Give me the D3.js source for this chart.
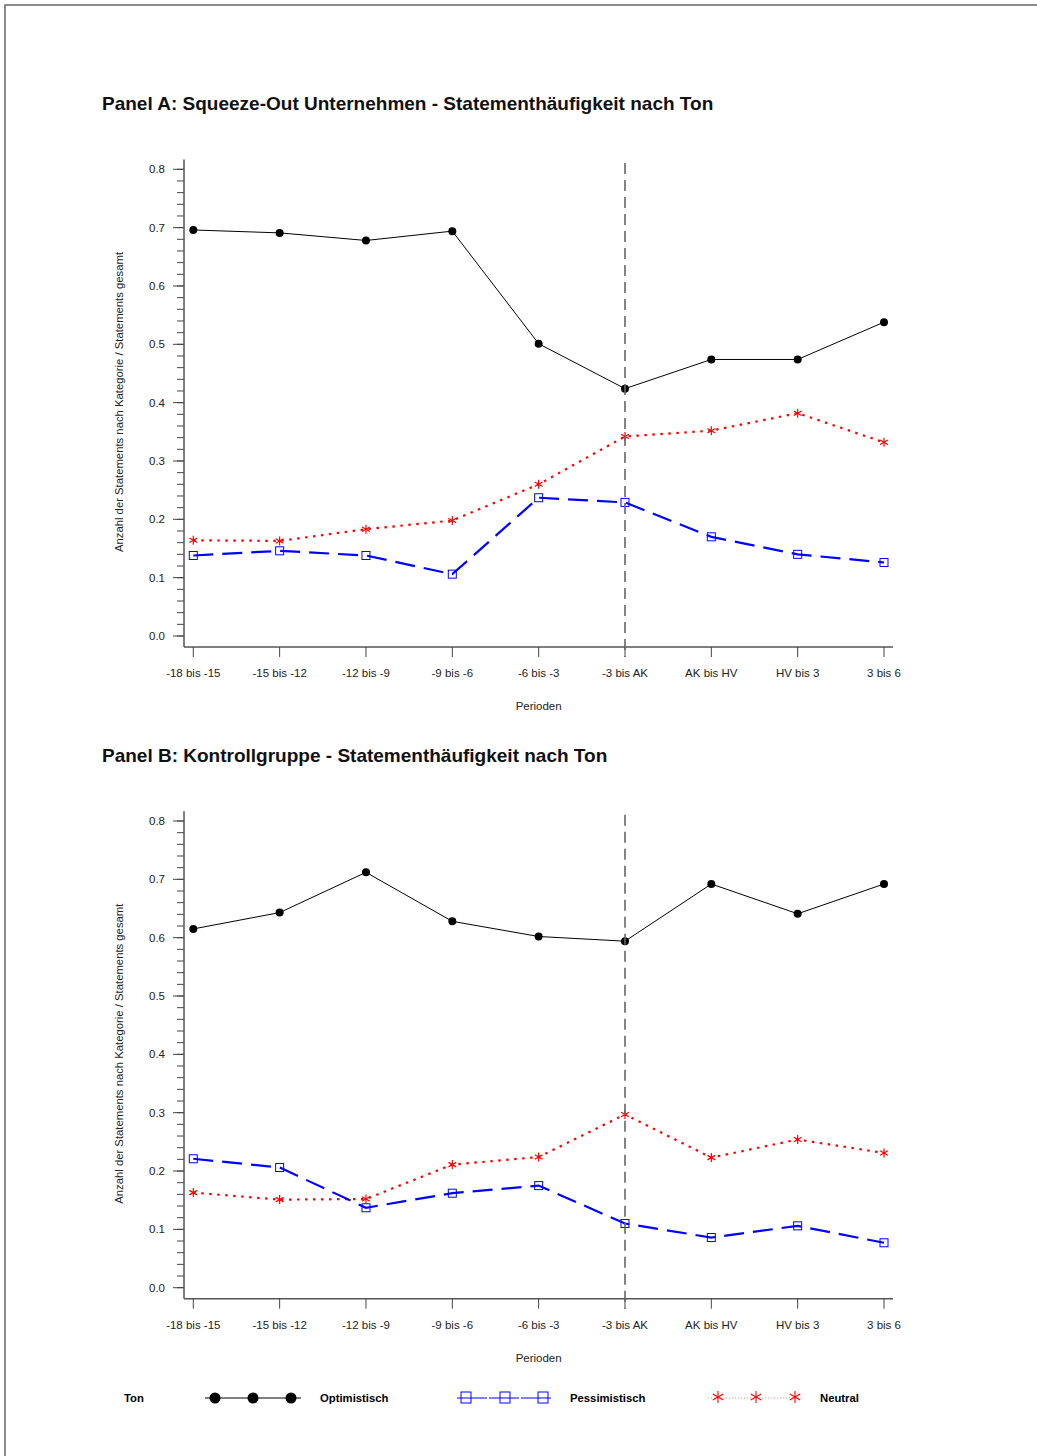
<!DOCTYPE html>
<html>
<head>
<meta charset="utf-8">
<script src="https://cdn.jsdelivr.net/npm/d3@7"></script>
<style>
  body { margin: 0; background: #fff; }
  svg { display: block; font-family: "Liberation Sans", Arial, sans-serif; }
</style>
</head>
<body>
<svg id="chart" width="1037" height="1456"></svg>
<script>
var width = 1037;
var height = 1456;

// periods on the x axis
var perioden = ["-18 bis -15", "-15 bis -12", "-12 bis -9", "-9 bis -6", "-6 bis -3",
                "-3 bis AK", "AK bis HV", "HV bis 3", "3 bis 6"];
var yTicks = [0.0, 0.1, 0.2, 0.3, 0.4, 0.5, 0.6, 0.7, 0.8];

// Panel A: Squeeze-Out Unternehmen
var optimistischA  = [0.696, 0.691, 0.678, 0.694, 0.501, 0.424, 0.474, 0.474, 0.538];
var pessimistischA = [0.138, 0.146, 0.138, 0.106, 0.237, 0.229, 0.170, 0.140, 0.126];
var neutralA       = [0.164, 0.163, 0.183, 0.198, 0.260, 0.342, 0.352, 0.382, 0.332];

// Panel B: Kontrollgruppe
var optimistischB  = [0.615, 0.643, 0.712, 0.628, 0.602, 0.594, 0.692, 0.641, 0.692];
var pessimistischB = [0.221, 0.206, 0.137, 0.162, 0.175, 0.110, 0.086, 0.106, 0.077];
var neutralB       = [0.163, 0.151, 0.152, 0.211, 0.224, 0.297, 0.223, 0.254, 0.231];

var svg = d3.select("#chart");

// page frame (only top and left edges are visible)
svg.append("path")
  .attr("d", "M5,1460 L5,5 L1040,5")
  .attr("fill", "none")
  .attr("stroke", "#666")
  .attr("stroke-width", 1.5);

function star(g, x, y, r, w) {
  var s = g.append("g").attr("transform", "translate(" + x + "," + y + ")")
    .attr("stroke", "#ff0000").attr("stroke-width", w).attr("fill", "none");
  [0, 60, 120].forEach(function (a) {
    var rad = a * Math.PI / 180;
    s.append("line")
      .attr("x1", -r * Math.sin(rad)).attr("y1", -r * Math.cos(rad))
      .attr("x2", r * Math.sin(rad)).attr("y2", r * Math.cos(rad));
  });
}

function drawPanel(top, title, opt, pess, neut) {
  var g = svg.append("g").attr("transform", "translate(0," + top + ")");

  g.append("text")
    .attr("x", 102).attr("y", 110)
    .attr("font-size", "19px").attr("font-weight", "bold")
    .attr("fill", "#111")
    .text(title);

  var scaleX = d3.scalePoint().domain(perioden).range([193.3, 884]);
  var scaleY = d3.scaleLinear().domain([0, 0.8]).range([636, 169.3]);

  // y axis: major ticks with labels, minor ticks every 0.02
  var minor = d3.range(0, 0.8001, 0.02);
  g.selectAll(".minor").data(minor).enter().append("line")
    .attr("x1", 177).attr("x2", 184)
    .attr("y1", function (d) { return scaleY(d); })
    .attr("y2", function (d) { return scaleY(d); })
    .attr("stroke", "#444").attr("stroke-width", 1);
  g.selectAll(".major").data(yTicks).enter().append("line")
    .attr("x1", 173).attr("x2", 184)
    .attr("y1", function (d) { return scaleY(d); })
    .attr("y2", function (d) { return scaleY(d); })
    .attr("stroke", "#444").attr("stroke-width", 1);
  g.selectAll(".ylab").data(yTicks).enter().append("text")
    .attr("x", 165)
    .attr("y", function (d) { return scaleY(d) + 4; })
    .attr("text-anchor", "end")
    .attr("font-size", "11.5px").attr("fill", "#222")
    .text(function (d) { return d.toFixed(1); });

  g.append("line")
    .attr("x1", 184).attr("x2", 184).attr("y1", 159.5).attr("y2", 647)
    .attr("stroke", "#555").attr("stroke-width", 1.5);
  g.append("line")
    .attr("x1", 184).attr("x2", 893).attr("y1", 647).attr("y2", 647)
    .attr("stroke", "#555").attr("stroke-width", 1.5);

  // x axis ticks and labels
  g.selectAll(".xt").data(perioden).enter().append("line")
    .attr("x1", function (d) { return scaleX(d); })
    .attr("x2", function (d) { return scaleX(d); })
    .attr("y1", 647).attr("y2", 657)
    .attr("stroke", "#444").attr("stroke-width", 1);
  g.selectAll(".xlab").data(perioden).enter().append("text")
    .attr("x", function (d) { return scaleX(d); })
    .attr("y", 677)
    .attr("text-anchor", "middle")
    .attr("font-size", "11.5px").attr("fill", "#222")
    .text(function (d) { return d; });

  g.append("text")
    .attr("x", scaleX("-6 bis -3")).attr("y", 710)
    .attr("text-anchor", "middle")
    .attr("font-size", "11.5px").attr("fill", "#222")
    .text("Perioden");

  g.append("text")
    .attr("transform", "translate(123,402) rotate(-90)")
    .attr("text-anchor", "middle")
    .attr("font-size", "11.3px").attr("fill", "#222")
    .text("Anzahl der Statements nach Kategorie / Statements gesamt");

  var line = d3.line()
    .x(function (d, i) { return scaleX(perioden[i]); })
    .y(function (d) { return scaleY(d); });

  // Neutral: red dotted with asterisks
  g.append("path").attr("d", line(neut))
    .attr("fill", "none").attr("stroke", "#ff0000")
    .attr("stroke-width", 2.2).attr("stroke-dasharray", "2.5,5.5");
  neut.forEach(function (v, i) { star(g, scaleX(perioden[i]), scaleY(v), 4.5, 1.2); });

  // Pessimistisch: blue long dashes with open squares
  g.append("path").attr("d", line(pess))
    .attr("fill", "none").attr("stroke", "#0000ff")
    .attr("stroke-width", 2.2).attr("stroke-dasharray", "20,9");
  g.selectAll(".sq").data(pess).enter().append("rect")
    .attr("x", function (d, i) { return scaleX(perioden[i]) - 4; })
    .attr("y", function (d) { return scaleY(d) - 4; })
    .attr("width", 8).attr("height", 8)
    .attr("fill", "none").attr("stroke", "#0000ff").attr("stroke-width", 1);

  // Optimistisch: black solid with filled circles
  g.append("path").attr("d", line(opt))
    .attr("fill", "none").attr("stroke", "#000").attr("stroke-width", 1);
  g.selectAll(".dot").data(opt).enter().append("circle")
    .attr("cx", function (d, i) { return scaleX(perioden[i]); })
    .attr("cy", function (d) { return scaleY(d); })
    .attr("r", 4).attr("fill", "#000");

  // reference line at "-3 bis AK"
  g.append("line")
    .attr("x1", scaleX("-3 bis AK")).attr("x2", scaleX("-3 bis AK"))
    .attr("y1", 163).attr("y2", 657)
    .attr("stroke", "#666").attr("stroke-width", 1.6)
    .attr("stroke-dasharray", "11,6");
}

drawPanel(0, "Panel A: Squeeze-Out Unternehmen - Statementhäufigkeit nach Ton",
  optimistischA, pessimistischA, neutralA);
drawPanel(651.7, "Panel B: Kontrollgruppe - Statementhäufigkeit nach Ton",
  optimistischB, pessimistischB, neutralB);

// legend
var leg = svg.append("g");
var ly = 1398;
leg.append("text").attr("x", 134).attr("y", ly + 4)
  .attr("text-anchor", "middle").attr("font-size", "11.3px").attr("font-weight", "bold")
  .text("Ton");

var legItems = ["Optimistisch", "Pessimistisch", "Neutral"];
var legX = [205, 457, 708];
var legTextX = [320, 570, 820];

// Optimistisch
leg.append("line").attr("x1", legX[0]).attr("x2", legX[0] + 96)
  .attr("y1", ly).attr("y2", ly).attr("stroke", "#000").attr("stroke-width", 1.2);
[10, 48, 86].forEach(function (dx) {
  leg.append("circle").attr("cx", legX[0] + dx).attr("cy", ly).attr("r", 5.5).attr("fill", "#000");
});
leg.append("text").attr("x", legTextX[0]).attr("y", ly + 4)
  .attr("font-size", "11.3px").attr("font-weight", "bold").text(legItems[0]);

// Pessimistisch
leg.append("line").attr("x1", legX[1]).attr("x2", legX[1] + 96)
  .attr("y1", ly).attr("y2", ly).attr("stroke", "#0000ff").attr("stroke-width", 1)
  .attr("stroke-dasharray", "30,2");
[9, 48, 86].forEach(function (dx) {
  leg.append("rect").attr("x", legX[1] + dx - 5).attr("y", ly - 6)
    .attr("width", 10).attr("height", 11)
    .attr("fill", "none").attr("stroke", "#0000ff").attr("stroke-width", 1);
});
leg.append("text").attr("x", legTextX[1]).attr("y", ly + 4)
  .attr("font-size", "11.3px").attr("font-weight", "bold").text(legItems[1]);

// Neutral
leg.append("line").attr("x1", legX[2]).attr("x2", legX[2] + 96)
  .attr("y1", ly).attr("y2", ly).attr("stroke", "#ff6666").attr("stroke-width", 0.8)
  .attr("stroke-dasharray", "1,2");
[10, 48, 87].forEach(function (dx) { star(leg, legX[2] + dx, ly - 1, 6, 1.1); });
leg.append("text").attr("x", legTextX[2]).attr("y", ly + 4)
  .attr("font-size", "11.3px").attr("font-weight", "bold").text(legItems[2]);
</script>
</body>
</html>
